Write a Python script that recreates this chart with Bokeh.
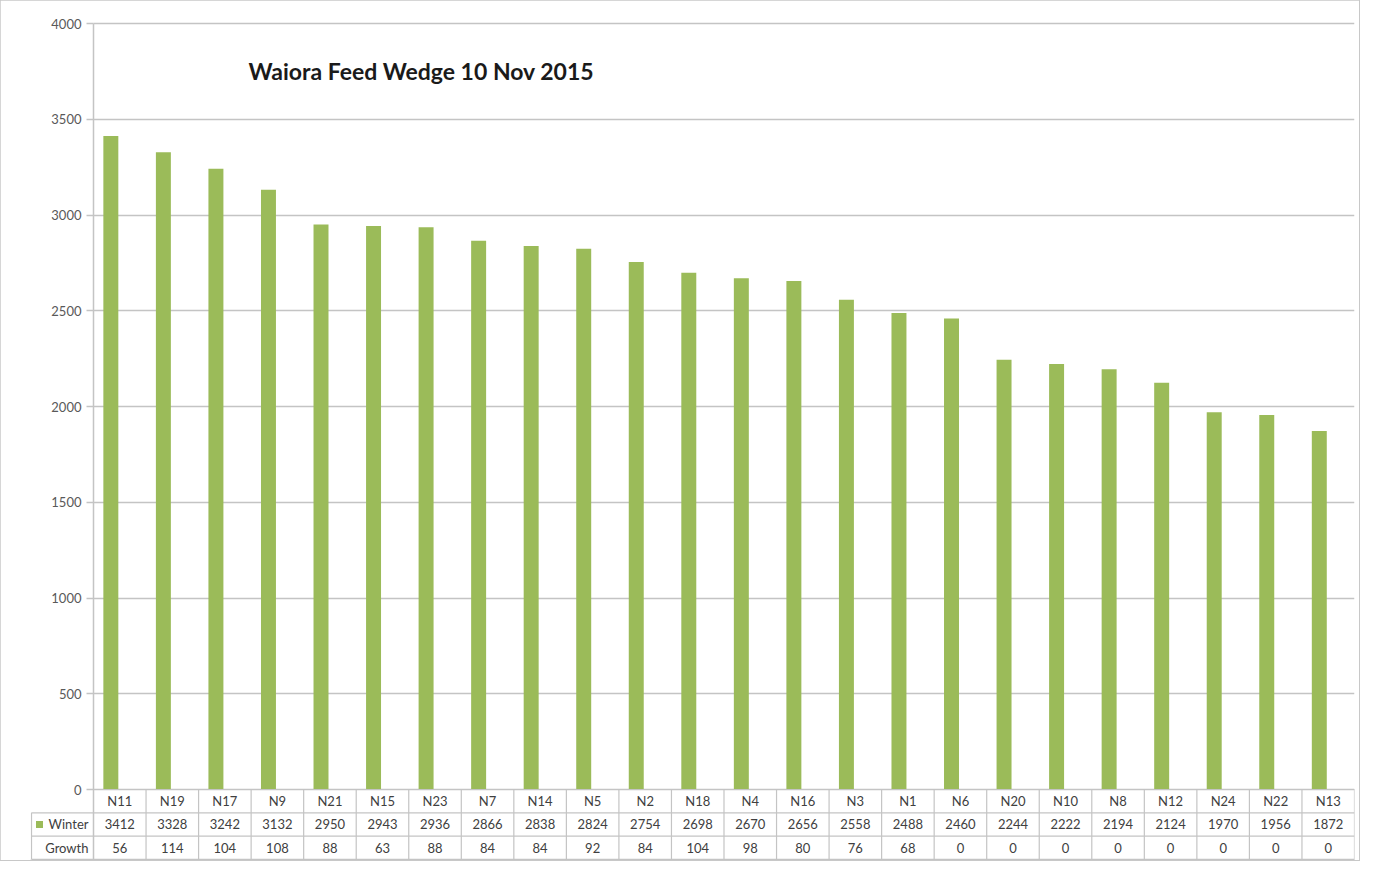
from bokeh.plotting import figure
from bokeh.models import Range1d, FixedTicker, ColumnDataSource, Label
from bokeh.core.properties import value
from bokeh.embed import file_html
from bokeh.resources import INLINE

# ---- data ----
paddocks = ["N11", "N19", "N17", "N9", "N21", "N15", "N23", "N7", "N14", "N5", "N2", "N18",
            "N4", "N16", "N3", "N1", "N6", "N20", "N10", "N8", "N12", "N24", "N22", "N13"]
winter = [3412, 3328, 3242, 3132, 2950, 2943, 2936, 2866, 2838, 2824, 2754, 2698,
          2670, 2656, 2558, 2488, 2460, 2244, 2222, 2194, 2124, 1970, 1956, 1872]
growth = [56, 114, 104, 108, 88, 63, 88, 84, 84, 92, 84, 104,
          98, 80, 76, 68, 0, 0, 0, 0, 0, 0, 0, 0]
y_ticks = [0, 500, 1000, 1500, 2000, 2500, 3000, 3500, 4000]
series_names = ["Winter", "Growth"]
title_text = "Waiora Feed Wedge 10 Nov 2015"

# ---- style / layout constants ----
GREEN = "#9bbb59"
LINE = "#c4c4c4"
TXT = "#404040"
FONT = "Lato"
n = len(paddocks)
W, H = 1359, 860
BORDER_L, BORDER_R, BORDER_T = 30, 5, 12
AXIS_PX = 93                                   # pixel position of the value axis
TOP_PX = 23                                    # pixel row of the 4000 line
slot_px = (W - BORDER_R - AXIS_PX) / n         # pixels per category
x_start = -(AXIS_PX - BORDER_L) / slot_px
px_per_unit = 766 / 4000.0                     # vertical pixels per data unit
zero_px = TOP_PX + 766                         # pixel row of the zero line
row = 23.3 / px_per_unit                       # table row height in data units
y_bottom = -(H - zero_px) / px_per_unit
y_top = 4000 + (TOP_PX - BORDER_T) / px_per_unit
label_left = -(AXIS_PX - 31) / slot_px         # left edge of table label column

p = figure(width=W, height=H, output_backend="svg", toolbar_location=None,
           x_range=Range1d(x_start, n), y_range=Range1d(y_bottom, y_top),
           x_axis_location=None, min_border_left=BORDER_L, min_border_right=BORDER_R,
           min_border_top=BORDER_T, min_border_bottom=0)
p.outline_line_color = None
p.background_fill_color = "white"
p.border_fill_color = "white"
p.styles = {"outline": "2px solid #c8c8c8", "outline-offset": "-1px"}

# y axis, drawn at x = 0 (between label column and first category)
yax = p.yaxis[0]
yax.fixed_location = 0
yax.bounds = (y_bottom, 4000)
yax.ticker = FixedTicker(ticks=y_ticks)
yax.axis_line_color = LINE
yax.axis_line_width = 1.5
yax.major_tick_line_color = LINE
yax.major_tick_line_width = 1.5
yax.major_tick_out = 7
yax.major_tick_in = 0
yax.minor_tick_line_color = None
yax.major_label_standoff = 5
yax.major_label_text_font = FONT
yax.major_label_text_font_size = "13px"
yax.major_label_text_color = "#595959"

p.xgrid.visible = False
p.ygrid.ticker = FixedTicker(ticks=y_ticks)
p.ygrid.cross_bounds = (0, n)
p.ygrid.grid_line_color = LINE
p.ygrid.grid_line_width = 1.5

# bars
xs = [i + 0.5 - 0.17 for i in range(n)]
src = ColumnDataSource(dict(x=xs, top=winter, name=paddocks))
p.vbar(x="x", top="top", bottom=0, width=0.285, source=src,
       fill_color=GREEN, line_color=None)

# title
p.add_layout(Label(x=2.95, y=3751, text=title_text, text_font=FONT,
                   text_font_style="bold", text_font_size="23px",
                   text_color="#1a1a1a", text_baseline="middle"))

# data table lines
hx0, hx1, hy = [], [], []
for k in range(4):
    hx0.append(0 if k == 0 else label_left)
    hx1.append(n)
    hy.append(-k * row)
p.segment(x0=hx0, y0=hy, x1=hx1, y1=hy, line_color=LINE, line_width=1.2)
vx = list(range(1, n + 1)) + [label_left]
vy0 = [0] * n + [-row]
p.segment(x0=vx, y0=vy0, x1=vx, y1=[-3 * row] * (n + 1), line_color=LINE, line_width=1.2)

centers = [i + 0.5 for i in range(n)]
tsrc = ColumnDataSource(dict(x=centers, cat=paddocks,
                             w=[str(v) for v in winter], g=[str(v) for v in growth]))
for field, yy in (("cat", -0.5 * row), ("w", -1.5 * row), ("g", -2.5 * row)):
    p.text(x="x", y=yy, text=field, source=tsrc, text_align="center",
           text_baseline="middle", text_font=value(FONT), text_font_size="13px",
           text_color=TXT)

# label column
lab_x = -5.0 / slot_px
p.text(x=[lab_x, lab_x], y=[-1.5 * row, -2.5 * row], text=series_names,
       text_align="right", text_baseline="middle", text_font=value(FONT),
       text_font_size="13px", text_color=TXT)
p.scatter(x=[-(AXIS_PX - 39) / slot_px], y=[-1.5 * row], marker="square", size=7,
          fill_color=GREEN, line_color=None)

open("out.html", "w").write(file_html(p, INLINE))
